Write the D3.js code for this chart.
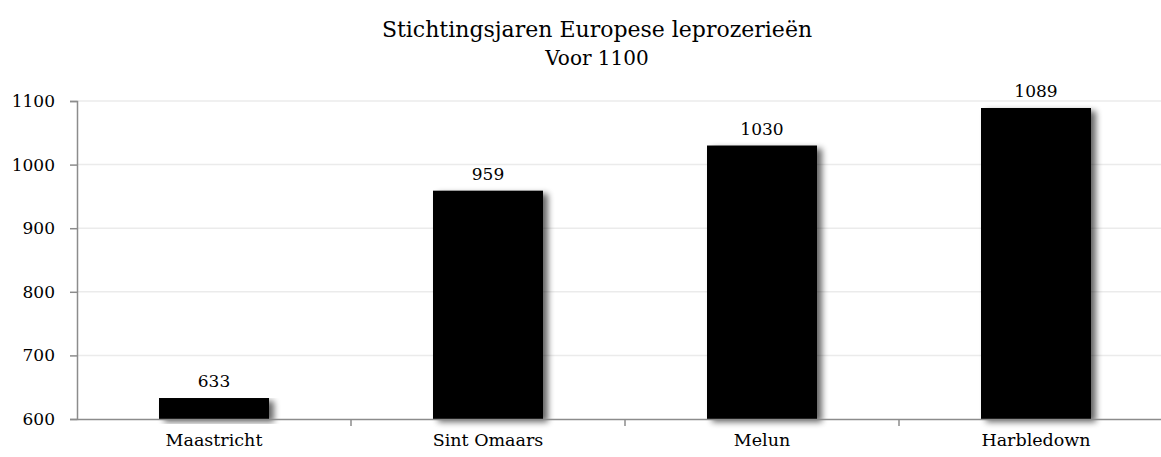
<!DOCTYPE html>
<html><head><meta charset="utf-8">
<script src="https://cdn.jsdelivr.net/npm/d3@7"></script>
<style>body{margin:0;background:#fff}svg{display:block}</style>
</head><body>
<script>
const categories = ["Maastricht", "Sint Omaars", "Melun", "Harbledown"];
const values = [633, 959, 1030, 1089];
const yTicks = [600, 700, 800, 900, 1000, 1100];
const titleText = "Stichtingsjaren Europese leprozerieën";
const subtitleText = "Voor 1100";

const W = 1161, H = 457;
const font = "'DejaVu Serif', 'Liberation Serif', serif";
const svg = d3.select("body").append("svg").attr("width", W).attr("height", H)
  .style("font-family", font);

const defs = svg.append("defs");
const f = defs.append("filter").attr("id", "sh").attr("x", "-10%").attr("y", "-10%").attr("width", "130%").attr("height", "130%");
f.append("feGaussianBlur").attr("in", "SourceAlpha").attr("stdDeviation", 3).attr("result", "b");
f.append("feOffset").attr("in", "b").attr("dx", 5).attr("dy", 3).attr("result", "o");
f.append("feComponentTransfer").attr("in", "o").attr("result", "o2")
  .append("feFuncA").attr("type", "linear").attr("slope", 0.6);
const m = f.append("feMerge");
m.append("feMergeNode").attr("in", "o2");
m.append("feMergeNode").attr("in", "SourceGraphic");

const x0 = 77, y0 = 419, yTop = 101;
const x = d3.scaleBand().domain(categories).range([x0, x0 + 4 * 274]).paddingInner(0).paddingOuter(0);
const y = d3.scaleLinear().domain([600, 1100]).range([y0, yTop]);

// gridlines
svg.append("g").selectAll("line").data(yTicks.slice(1)).join("line")
  .attr("x1", x0).attr("x2", W).attr("y1", d => y(d)).attr("y2", d => y(d))
  .attr("stroke", "#ebebeb").attr("stroke-width", 1.5);

// bars
const bw = 110;
svg.append("g").selectAll("rect").data(values).join("rect")
  .attr("x", (d, i) => x(categories[i]) + x.bandwidth() / 2 - bw / 2)
  .attr("width", bw)
  .attr("y", d => y(d))
  .attr("height", d => y0 - y(d))
  .attr("fill", "#000")
  .attr("filter", "url(#sh)");

// value labels
svg.append("g").selectAll("text").data(values).join("text")
  .attr("x", (d, i) => x(categories[i]) + x.bandwidth() / 2)
  .attr("y", d => y(d) - 11)
  .attr("text-anchor", "middle")
  .attr("font-size", 17).attr("fill", "#000")
  .text(d => d);

// y axis
const yAxis = d3.axisLeft(y).tickValues(yTicks).tickSize(7).tickPadding(15).tickFormat(d3.format("d"));
const gy = svg.append("g").attr("transform", `translate(${x0},0)`).call(yAxis);
gy.select(".domain").attr("stroke", "#8c8c8c").attr("stroke-width", 1.5);
gy.selectAll(".tick line").attr("stroke", "#8c8c8c").attr("stroke-width", 1.5);
gy.selectAll(".tick text").attr("font-size", 17).attr("font-family", font).attr("fill", "#000");

// x axis
const xAxis = d3.axisBottom(x).tickSize(0).tickPadding(15);
const gx = svg.append("g").attr("transform", `translate(0,${y0})`).call(xAxis);
gx.select(".domain").attr("stroke", "#8c8c8c").attr("stroke-width", 1.5);
gx.selectAll(".tick text").attr("font-size", 17.5).attr("font-family", font).attr("fill", "#000").attr("dy", "0.71em");
// category separator ticks
svg.append("g").selectAll("line").data(categories.slice(1)).join("line")
  .attr("x1", d => x(d)).attr("x2", d => x(d)).attr("y1", y0).attr("y2", y0 + 7)
  .attr("stroke", "#8c8c8c").attr("stroke-width", 1.5);

// title
svg.append("text").attr("x", 597).attr("y", 37).attr("text-anchor", "middle")
  .attr("font-size", 22).text(titleText);
svg.append("text").attr("x", 597).attr("y", 65).attr("text-anchor", "middle")
  .attr("font-size", 20).text(subtitleText);
</script>
</body></html>
